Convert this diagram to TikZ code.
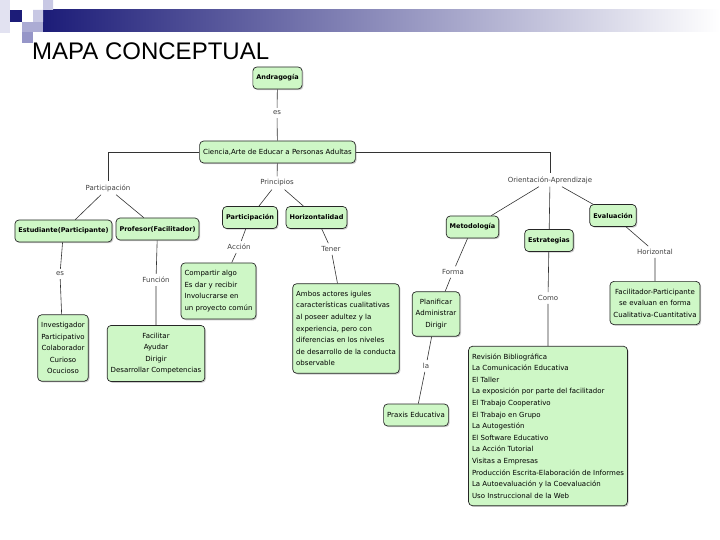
\documentclass[tikz,border=0pt]{standalone}
\usepackage{fontspec}
\setmainfont{DejaVu Sans}
\newfontfamily\titlefont{Liberation Sans}
\usetikzlibrary{shadows}
\definecolor{mapgreen}{RGB}{206,247,198}
\definecolor{navy}{RGB}{28,28,120}
\definecolor{lavA}{RGB}{226,226,241}
\definecolor{lavB}{RGB}{200,200,228}
\definecolor{lavC}{RGB}{172,172,212}
\definecolor{lavD}{RGB}{150,150,200}
\begin{document}
\begin{tikzpicture}[x=1pt,y=-1pt,
    concept/.style={draw=black!85,line width=.7pt,fill=mapgreen,rounded corners=4pt,
      drop shadow={shadow xshift=1.2pt,shadow yshift=-1.2pt,fill=black!40},
      font=\fontsize{7}{11.6}\selectfont,inner xsep=3.5pt,inner ysep=7.3pt,minimum height=22pt},
    key/.style={concept,font=\fontsize{6.5}{11.6}\selectfont\bfseries},
    link/.style={font=\fontsize{7}{8}\selectfont,text=black!75,inner sep=3pt},
    wire/.style={draw=black!80,line width=.6pt}]
  \useasboundingbox (0,0) rectangle (720,540);
  % header
  \shade [left color=navy,right color=white] (43,10) rectangle (720,32);
  \fill [lavA] (0,0) rectangle (10,33);
  \fill [navy] (10,10) rectangle (22,22);
  \fill [lavB] (33,10) rectangle (43,22) (43,0) rectangle (53,10);
  \fill [lavC] (22,22) rectangle (43,32);
  \fill [lavD] (22,32) rectangle (33,43);
  \node [anchor=base west,inner sep=0,font=\titlefont\fontsize{24}{24}\selectfont] (title) at (32,60) {MAPA CONCEPTUAL};
  % concepts
  \node [key] (andra) at (277.5,78) {Andragogía};
  \node [concept] (ciencia) at (277.5,152) {Ciencia,Arte de Educar a Personas Adultas};
  \node [key] (estud) at (63.5,231) {Estudiante(Participante)};
  \node [key] (prof) at (157.5,229) {Profesor(Facilitador)};
  \node [key] (part) at (250,217.5) {Participación};
  \node [key] (horiz) at (316.5,217.5) {Horizontalidad};
  \node [key] (metod) at (472.5,227) {Metodología};
  \node [key] (estrat) at (549,240.5) {Estrategias};
  \node [key] (evalu) at (613,215.5) {Evaluación};
  \node [concept,align=center] (invest) at (63,348) {Investigador\\Participativo\\Colaborador\\Curioso\\Ocucioso};
  \node [concept,align=center] (facil) at (156,353.5) {Facilitar\\Ayudar\\Dirigir\\Desarrollar Competencias};
  \node [concept,align=left] (compart) at (218.5,291) {Compartir algo\\Es dar y recibir\\Involucrarse en\\un proyecto común};
  \node [concept,align=left] (ambos) at (346,328.5) {Ambos actores igules\\características cualitativas\\al poseer adultez y la\\experiencia, pero con\\diferencias en los niveles\\de desarrollo de la conducta\\observable};
  \node [concept,align=center] (planif) at (436,314) {Planificar\\Administrar\\Dirigir};
  \node [concept] (praxis) at (416,415) {Praxis Educativa};
  \node [concept,align=left] (revis) at (548,426) {Revisión Bibliográfica\\La Comunicación Educativa\\El Taller\\La exposición por parte del facilitador\\El Trabajo Cooperativo\\El Trabajo en Grupo\\La Autogestión\\El Software Educativo\\La Acción Tutorial\\Visitas a Empresas\\Producción Escrita-Elaboración de Informes\\La Autoevaluación y la Coevaluación\\Uso Instruccional de la Web};
  \node [concept,align=center] (facpart) at (655,303) {Facilitador-Participante\\se evaluan en forma\\Cualitativa-Cuantitativa};
  % linking words
  \node [link] (les) at (277,113) {es};
  \node [link] (lpart) at (108,188) {Participación};
  \node [link] (lprin) at (277,183) {Principios};
  \node [link] (lorient) at (550,180) {Orientación-Aprendizaje};
  \node [link] (lser) at (60,274) {es};
  \node [link] (lfunc) at (156,280) {Función};
  \node [link] (lacc) at (239,247) {Acción};
  \node [link] (lten) at (331,249) {Tener};
  \node [link] (lforma) at (453,272) {Forma};
  \node [link] (lla) at (426,366) {la};
  \node [link] (lcomo) at (548,298) {Como};
  \node [link] (lhoriz) at (655,252) {Horizontal};
  % connectors
  \draw [wire] (andra) -- (les) -- (ciencia);
  \draw [wire] (ciencia.west) -| (lpart) (ciencia.east) -| (lorient);
  \draw [wire] (ciencia) -- (lprin);
  \draw [wire] (lpart) -- (estud) (lpart) -- (prof);
  \draw [wire] (lprin) -- (part) (lprin) -- (horiz);
  \draw [wire] (lorient) -- (metod) (lorient) -- (estrat) (lorient) -- (evalu);
  \draw [wire] (estud) -- (lser) -- (invest);
  \draw [wire] (prof) -- (lfunc) -- (facil);
  \draw [wire] (part) -- (lacc) -- (compart);
  \draw [wire] (horiz) -- (lten) -- (ambos);
  \draw [wire] (metod) -- (lforma) -- (planif);
  \draw [wire] (planif) -- (lla) -- (praxis);
  \draw [wire] (estrat) -- (lcomo) -- (revis);
  \draw [wire] (evalu) -- (lhoriz) -- (facpart);
\end{tikzpicture}
\end{document}
